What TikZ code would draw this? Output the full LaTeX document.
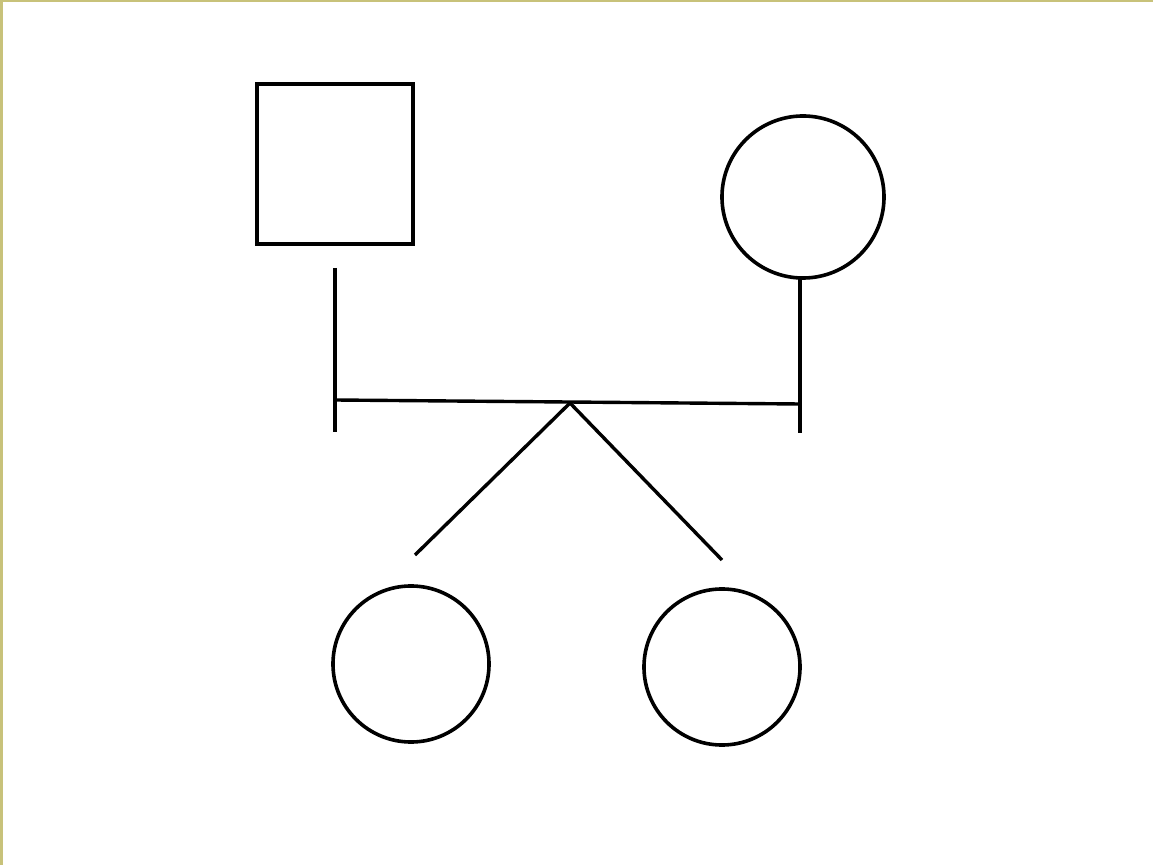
\documentclass[tikz,border=0pt]{standalone}
\begin{document}
\begin{tikzpicture}[x=0.025cm,y=-0.025cm,
  ink/.style={line width=0.09cm,draw=black},
  sq/.style={ink,rectangle,inner sep=0pt,minimum width=3.9cm,minimum height=4cm},
  circ/.style={ink,circle,inner sep=0pt,minimum size=#1},
  conn/.style={line width=0.085cm,black}]
\definecolor{frame}{RGB}{200,194,122}
\useasboundingbox (0,0) rectangle (1153,865);
\fill[white] (0,0) rectangle (1153,865);
\fill[frame] (0,0) rectangle (3,865);
\fill[frame] (0,0) rectangle (1153,2.5);
% individuals
\node[sq] (father) at (335,164) {};
\node[circ=4.05cm] (mother) at (803,197) {};
\node[circ=3.9cm] (child1) at (411,664) {};
\node[circ=3.9cm] (child2) at (722,667) {};
% coordinates
\coordinate (ftop) at (335,268);
\coordinate (fbot) at (335,432);
\coordinate (mtop) at (800,278);
\coordinate (mbot) at (800,433);
\coordinate (hl) at (335,400);
\coordinate (hr) at (800,404);
\coordinate (apex) at (570,403);
\coordinate (c1top) at (415,555);
\coordinate (c2top) at (722,560);
% lines
\draw[conn] (ftop) -- (fbot);
\draw[conn] (mtop) -- (mbot);
\draw[conn] (hl) -- (hr);
\draw[conn] (apex) -- (c1top);
\draw[conn] (apex) -- (c2top);
\end{tikzpicture}
\end{document}
